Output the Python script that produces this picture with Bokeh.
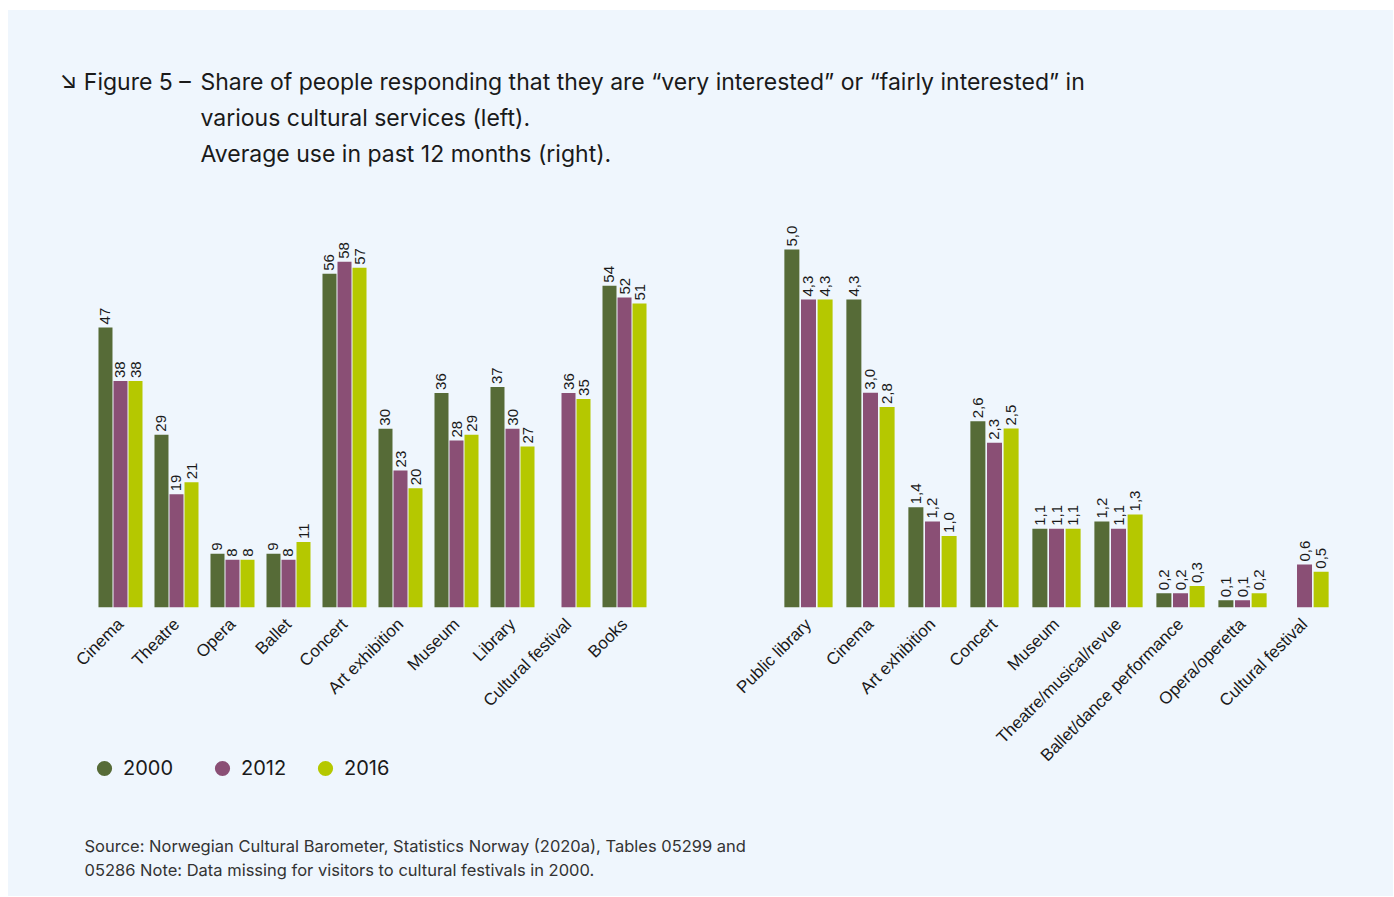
import math
from bokeh.plotting import figure
from bokeh.models import ColumnDataSource, FactorRange, Range1d, Legend, LegendItem, Spacer
from bokeh.layouts import column, row
from bokeh.transform import dodge
from bokeh.core.properties import value
from bokeh.embed import file_html
from bokeh.resources import INLINE

# ---------------- data ----------------
years = ["2000", "2012", "2016"]
colors = ["#566b37", "#8a4f75", "#b5c800"]

left_categories = ["Cinema", "Theatre", "Opera", "Ballet", "Concert", "Art exhibition",
                   "Museum", "Library", "Cultural festival", "Books"]
left_2000 = [47, 29, 9, 9, 56, 30, 36, 37, None, 54]
left_2012 = [38, 19, 8, 8, 58, 23, 28, 30, 36, 52]
left_2016 = [38, 21, 8, 11, 57, 20, 29, 27, 35, 51]

right_categories = ["Public library", "Cinema", "Art exhibition", "Concert", "Museum",
                    "Theatre/musical/revue", "Ballet/dance performance", "Opera/operetta",
                    "Cultural festival"]
right_2000 = [5.0, 4.3, 1.4, 2.6, 1.1, 1.2, 0.2, 0.1, None]
right_2012 = [4.3, 3.0, 1.2, 2.3, 1.1, 1.1, 0.2, 0.1, 0.6]
right_2016 = [4.3, 2.8, 1.0, 2.5, 1.1, 1.3, 0.3, 0.2, 0.5]

title_lead = "\u2198 Figure 5 \u2013"
title_lines = [
    "Share of people responding that they are \u201cvery interested\u201d or \u201cfairly interested\u201d in",
    "various cultural services (left).",
    "Average use in past 12 months (right).",
]
source_lines = [
    "Source: Norwegian Cultural Barometer, Statistics Norway (2020a), Tables 05299 and",
    "05286 Note: Data missing for visitors to cultural festivals in 2000.",
]

# ---------------- style ----------------
BG = "#eff6fd"
TXT = "#1a1a1a"
SANS = "Inter"
CHART_FONT = "Liberation Sans"


def blank_fig(width, height, x_range, y_range):
    p = figure(width=width, height=height, x_range=x_range, y_range=y_range,
               output_backend="svg", toolbar_location=None,
               x_axis_location=None, y_axis_location=None,
               background_fill_color=BG, border_fill_color=BG, outline_line_color=None,
               min_border_left=0, min_border_right=0, min_border_top=0, min_border_bottom=0)
    p.grid.visible = False
    return p


def make_chart(cats, series, width, height, ymax, padding, mbl, mbr, mbb, bar_w, step, fmt):
    p = figure(width=width, height=height,
               x_range=FactorRange(factors=cats, range_padding=padding, range_padding_units="absolute"),
               y_range=Range1d(0, ymax),
               output_backend="svg", toolbar_location=None, y_axis_location=None,
               background_fill_color=BG, border_fill_color=BG, outline_line_color=None,
               min_border_left=mbl, min_border_right=mbr, min_border_top=0, min_border_bottom=mbb)
    p.grid.visible = False
    for i, vals in enumerate(series):
        off = (i - 1) * step
        xs = [c for c, v in zip(cats, vals) if v is not None]
        ys = [v for v in vals if v is not None]
        src = ColumnDataSource(dict(x=xs, y=ys, label=[fmt(v) for v in ys]))
        p.vbar(x=dodge("x", off, range=p.x_range), top="y", width=bar_w, source=src,
               fill_color=colors[i], line_color=None)
        p.text(x=dodge("x", off, range=p.x_range), y="y", text="label", source=src,
               angle=math.pi / 2, text_align="left", text_baseline="middle", y_offset=-3,
               text_font=value(CHART_FONT), text_font_size="15px", text_color=TXT)
    ax = p.xaxis[0]
    ax.major_label_orientation = math.pi / 4
    ax.axis_line_color = None
    ax.major_tick_line_color = None
    ax.minor_tick_line_color = None
    ax.major_label_standoff = 8
    ax.major_label_text_font = CHART_FONT
    ax.major_label_text_font_size = "17px"
    ax.major_label_text_color = TXT
    return p


# ---------------- title ----------------
title_fig = blank_fig(1385, 190, Range1d(0, 1385), Range1d(190, 0))
title_fig.text(x=[51], y=[71], text=[title_lead], text_font=value(SANS), text_font_size="23px",
               text_color=TXT, text_baseline="middle")
title_fig.text(x=[192, 192, 192], y=[71, 107, 143], text=title_lines, text_font=value(SANS),
               text_font_size="23px", text_color=TXT, text_baseline="middle")

# ---------------- charts ----------------
left_fig = make_chart(left_categories, [left_2000, left_2012, left_2016],
                      width=720, height=540, ymax=407 / 5.96, padding=1.357,
                      mbl=8, mbr=0, mbb=133, bar_w=0.25, step=0.268,
                      fmt=lambda v: f"{v:d}")
right_fig = make_chart(right_categories, [right_2000, right_2012, right_2016],
                       width=665, height=600, ymax=407 / 71.6, padding=0.79,
                       mbl=0, mbr=9, mbb=193, bar_w=0.242, step=0.268,
                       fmt=lambda v: f"{v:.1f}".replace(".", ","))

# ---------------- legend ----------------
legend_fig = blank_fig(720, 60, Range1d(0, 720), Range1d(0, 60))
legend_x = [69, 187, 290]
for yr, c, lx in zip(years, colors, legend_x):
    r = legend_fig.scatter(x=[0], y=[-100], marker="circle", size=15, fill_color=c,
                           line_color=None, visible=False)
    lg = Legend(items=[LegendItem(label=yr, renderers=[r])], location=(lx, 13),
                orientation="horizontal", glyph_width=38, glyph_height=38, label_standoff=0,
                padding=0, margin=0, spacing=0, border_line_color=None, background_fill_alpha=0,
                inactive_fill_alpha=0,
                label_text_font=SANS, label_text_font_size="20px", label_text_color=TXT)
    legend_fig.add_layout(lg)

# ---------------- source ----------------
source_fig = blank_fig(1385, 96, Range1d(0, 1385), Range1d(96, 0))
source_fig.text(x=[76, 76], y=[45, 69], text=source_lines, text_font=value(SANS),
                text_font_size="16.5px", text_color="#333333", text_baseline="middle")

panel = column(title_fig,
               row(column(left_fig, legend_fig, styles={"background-color": BG}), right_fig,
                   styles={"background-color": BG}),
               source_fig, styles={"background-color": BG})
layout = row(Spacer(width=8), column(Spacer(height=10), panel))

open("out.html", "w").write(file_html(layout, INLINE))
